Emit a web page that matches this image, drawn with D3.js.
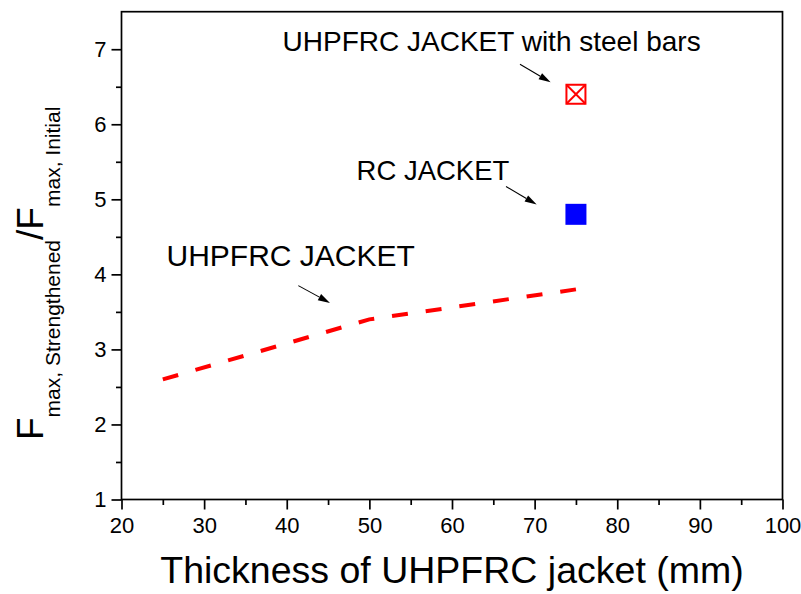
<!DOCTYPE html>
<html>
<head>
<meta charset="utf-8">
<script src="https://cdn.jsdelivr.net/npm/d3@7"></script>
<style>
  html, body { margin: 0; padding: 0; background: #fff; }
  svg { display: block; font-family: "Liberation Sans", Arial, Helvetica, sans-serif; }
</style>
</head>
<body>
<svg id="chart" width="801" height="594"></svg>
<script>
// Strength ratio of UHPFRC-jacketed column versus jacket thickness
const thickness = [25, 50, 75];
const ratioUHPFRC = [2.6, 3.4, 3.8];

// Single-point comparisons at 75 mm
const rcJacket = { x: 75, y: 4.8 };
const steelBarsJacket = { x: 75, y: 6.4 };

// Axis settings
const xDomain = [20, 100];
const yDomain = [1, 7.5];
const xMajorTicks = [20, 30, 40, 50, 60, 70, 80, 90, 100];
const xMinorTicks = [25, 35, 45, 55, 65, 75, 85, 95];
const yMajorTicks = [1, 2, 3, 4, 5, 6, 7];
const yMinorTicks = [1.5, 2.5, 3.5, 4.5, 5.5, 6.5];

// Annotation labels and their arrows (data units)
const labels = [
  { text: "UHPFRC JACKET with steel bars", x: 39.5, y: 6.97, size: 28 },
  { text: "RC JACKET", x: 48.45, y: 5.26, size: 27.5 },
  { text: "UHPFRC JACKET", x: 25.45, y: 4.11, size: 30 }
];
const arrows = [
  { x1: 68.23, y1: 6.80, x2: 71.94, y2: 6.56 },
  { x1: 66.54, y1: 5.17, x2: 70.25, y2: 4.93 },
  { x1: 41.40, y1: 3.85, x2: 45.23, y2: 3.62 }
];

const svg = d3.select("#chart");
const plotLeft = 121.5, plotRight = 782.5, plotTop = 11.7, plotBottom = 499.5;

const x = d3.scaleLinear().domain(xDomain).range([plotLeft, plotRight]);
const y = d3.scaleLinear().domain(yDomain).range([plotBottom, plotTop]);

const axisStroke = 1.7;

// Frame
svg.append("rect")
  .attr("x", plotLeft).attr("y", plotTop)
  .attr("width", plotRight - plotLeft).attr("height", plotBottom - plotTop)
  .attr("fill", "none").attr("stroke", "#000").attr("stroke-width", axisStroke);

// Bottom axis: majors with labels, minors without
svg.append("g").attr("transform", `translate(0,${plotBottom})`)
  .call(d3.axisBottom(x).tickValues(xMajorTicks).tickSize(10).tickPadding(8).tickFormat(d3.format("d")));
svg.append("g").attr("transform", `translate(0,${plotBottom})`)
  .call(d3.axisBottom(x).tickValues(xMinorTicks).tickSize(5.5).tickFormat(""));

svg.append("g").attr("transform", `translate(${plotLeft},0)`)
  .call(d3.axisLeft(y).tickValues(yMajorTicks).tickSize(10).tickPadding(5).tickFormat(d3.format("d")));
svg.append("g").attr("transform", `translate(${plotLeft},0)`)
  .call(d3.axisLeft(y).tickValues(yMinorTicks).tickSize(5.5).tickFormat(""));

svg.selectAll(".domain").remove();
svg.selectAll(".tick line").attr("stroke", "#000").attr("stroke-width", axisStroke);
svg.selectAll(".tick text")
  .attr("fill", "#000")
  .attr("font-size", null)
  .style("font-size", "22px")
  .style("font-family", '"Liberation Sans", Arial, sans-serif');

// UHPFRC jacket trend (dashed)
const line = d3.line().x((d, i) => x(thickness[i])).y(d => y(d));
svg.append("path")
  .datum(ratioUHPFRC)
  .attr("d", line)
  .attr("fill", "none")
  .attr("stroke", "#ff0000")
  .attr("stroke-width", 4)
  .attr("stroke-dasharray", "16,18");

// RC jacket: filled blue square
const sq = 21;
svg.append("rect")
  .attr("x", x(rcJacket.x) - sq / 2).attr("y", y(rcJacket.y) - sq / 2)
  .attr("width", sq).attr("height", sq)
  .attr("fill", "#0000ff");

// UHPFRC jacket with steel bars: crossed open square
const cx = x(steelBarsJacket.x), cy = y(steelBarsJacket.y), h = (sq - 2) / 2;
const g = svg.append("g").attr("stroke", "#ff0000").attr("stroke-width", 2).attr("fill", "none");
g.append("rect").attr("x", cx - h).attr("y", cy - h).attr("width", 2 * h).attr("height", 2 * h).attr("fill", "#fff");
g.append("line").attr("x1", cx - h).attr("y1", cy - h).attr("x2", cx + h).attr("y2", cy + h);
g.append("line").attr("x1", cx - h).attr("y1", cy + h).attr("x2", cx + h).attr("y2", cy - h);

// Annotation text
svg.selectAll("text.label").data(labels).join("text")
  .attr("class", "label")
  .attr("x", d => x(d.x)).attr("y", d => y(d.y))
  .style("font-size", d => d.size + "px")
  .attr("fill", "#000")
  .text(d => d.text);

// Annotation arrows: thin shaft with filled triangular head
arrows.forEach(a => {
  const x1 = x(a.x1), y1 = y(a.y1), x2 = x(a.x2), y2 = y(a.y2);
  const ang = Math.atan2(y2 - y1, x2 - x1);
  const headLen = 12, headHalf = 3.5;
  const bx = x2 - headLen * Math.cos(ang), by = y2 - headLen * Math.sin(ang);
  svg.append("line")
    .attr("x1", x1).attr("y1", y1).attr("x2", bx).attr("y2", by)
    .attr("stroke", "#000").attr("stroke-width", 1.1);
  const px = -Math.sin(ang) * headHalf, py = Math.cos(ang) * headHalf;
  svg.append("path")
    .attr("d", `M${x2},${y2}L${bx + px},${by + py}L${bx - px},${by - py}Z`)
    .attr("fill", "#000");
});

// X axis title
svg.append("text")
  .attr("x", (plotLeft + plotRight) / 2).attr("y", 583)
  .attr("text-anchor", "middle")
  .style("font-size", "37.5px")
  .attr("fill", "#000")
  .text("Thickness of UHPFRC jacket (mm)");

// Y axis title with subscripts
const yt = svg.append("text")
  .attr("transform", "translate(43,440) rotate(-90)")
  .attr("fill", "#000");
yt.append("tspan").style("font-size", "37px").text("F");
yt.append("tspan").style("font-size", "21px").attr("dy", 17).text("max, Strengthened");
yt.append("tspan").style("font-size", "37px").attr("dy", -17).text("/F");
yt.append("tspan").style("font-size", "21px").attr("dy", 17).text("max, Initial");
</script>
</body>
</html>
